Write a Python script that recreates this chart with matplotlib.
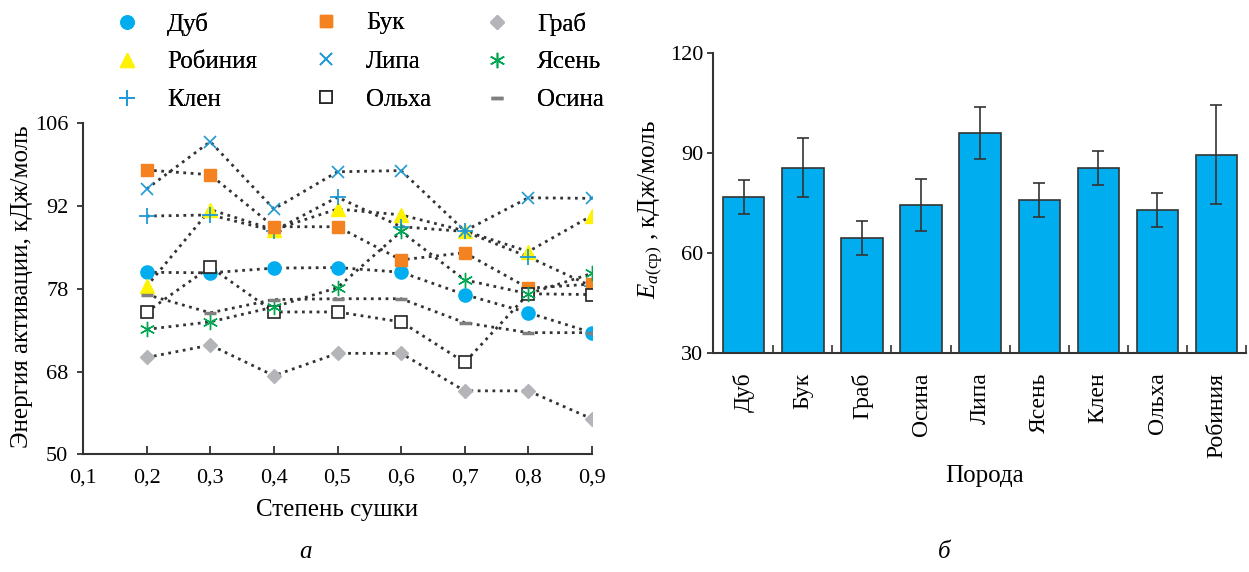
import numpy as np
import matplotlib.pyplot as plt
from matplotlib.lines import Line2D

plt.rcParams['font.family'] = ['Liberation Serif', 'DejaVu Serif']
plt.rcParams['mathtext.fontset'] = 'custom'
plt.rcParams['mathtext.rm'] = 'Liberation Serif'
plt.rcParams['mathtext.it'] = 'Liberation Serif:italic'

# --- data, panel a ---
dryness = [0.2, 0.3, 0.4, 0.5, 0.6, 0.7, 0.8, 0.9]
dub = [80.8, 80.7, 81.5, 81.6, 80.8, 77.3, 75.1, 72.7]
robinia = [78.4, 91.4, 88.0, 91.5, 90.5, 87.8, 84.3, 90.4]
klen = [90.3, 90.5, 87.8, 93.5, 88.5, 87.7, 83.4, 78.4]
buk = [98.1, 97.3, 88.5, 88.5, 82.9, 84.1, 78.1, 78.8]
lipa = [94.9, 102.9, 91.5, 97.8, 98.0, 87.8, 93.4, 93.3]
olkha = [75.2, 81.7, 75.2, 75.2, 74.0, 69.1, 77.4, 77.3]
grab = [69.7, 71.2, 67.1, 70.2, 70.2, 63.8, 63.8, 57.7]
yasen = [73.1, 74.0, 75.8, 78.2, 87.7, 79.5, 77.4, 80.6]
osina = [77.3, 75.1, 76.7, 76.8, 76.8, 73.9, 72.7, 72.7]
ytick_vals = [50, 68, 78, 92, 106]
xtick_vals = [0.1, 0.2, 0.3, 0.4, 0.5, 0.6, 0.7, 0.8, 0.9]

# --- data, panel b ---
bar_names = ['Дуб', 'Бук', 'Граб', 'Осина', 'Липа', 'Ясень', 'Клен', 'Ольха', 'Робиния']
bar_mean = [76.9, 85.6, 64.5, 74.5, 95.9, 76.0, 85.5, 72.9, 89.5]
bar_err = [5.1, 8.8, 5.2, 7.8, 7.7, 5.1, 5.2, 5.1, 14.7]

BLUE = '#00AEEF'
DARK = '#333333'
FS = 18      # labels, legend
TFS = 16     # numeric tick labels

# name, values, marker style
series = [
    ('Дуб', dub, dict(marker='o', ms=9.5, mfc=BLUE, mec=BLUE)),
    ('Робиния', robinia, dict(marker='^', ms=10, mfc='#FFF200', mec='#FFF200')),
    ('Клен', klen, dict(marker='+', ms=11, mec='#1E9AD6', mew=1.3)),
    ('Бук', buk, dict(marker='s', ms=9, mfc='#F58220', mec='#F58220')),
    ('Липа', lipa, dict(marker='x', ms=8, mec='#1E9AD6', mew=1.2)),
    ('Ольха', olkha, dict(marker='s', ms=9, mfc='white', mec='#222222', mew=1.2)),
    ('Граб', grab, dict(marker='D', ms=7, mfc='#B3B5B8', mec='#B3B5B8')),
    ('Ясень', yasen, dict(marker=(6, 2, 0), ms=11, mec='#00A651', mew=1.0)),
    ('Осина', osina, dict(marker='_', ms=9, mec='#808080', mew=2.5)),
]

fig = plt.figure(figsize=(12.49, 5.72), dpi=100)

# ---------- panel a ----------
ax = fig.add_axes([83 / 1249, 1 - 454.3 / 572, (592 - 83) / 1249, (454.3 - 123.3) / 572])


def fwd(y):
    return np.interp(y, ytick_vals, np.arange(len(ytick_vals)))


def inv(p):
    return np.interp(p, np.arange(len(ytick_vals)), ytick_vals)


ax.set_yscale('function', functions=(fwd, inv))
handles = []
for name, vals, style in series:
    ax.plot(dryness, vals, linestyle=':', color=DARK, lw=2, zorder=1)
    ax.plot(dryness, vals, linestyle='none', zorder=3, **style)
    handles.append(Line2D([], [], linestyle='none', label=name, **style))

ax.set_xlim(0.1, 0.9)
ax.set_ylim(50, 106)
ax.set_xticks(xtick_vals)
ax.set_xticklabels([f'{v:.1f}'.replace('.', ',') for v in xtick_vals])
ax.set_yticks(ytick_vals)
ax.set_yticklabels([str(v) for v in ytick_vals])
ax.tick_params(axis='x', direction='in', length=6, width=1.3, color=DARK,
               labelsize=TFS, pad=10.5)
ax.tick_params(axis='y', direction='out', length=4.5, width=1.3, color=DARK,
               labelsize=TFS, pad=6)
for s in ['top', 'right']:
    ax.spines[s].set_visible(False)
for s in ['left', 'bottom']:
    ax.spines[s].set_color(DARK)
    ax.spines[s].set_linewidth(1.5)

fig.text(22 / 1249, 1 - 287 / 572, 'Энергия активации, кДж/моль', rotation=90,
         ha='center', va='center', fontsize=FS)
fig.text(337 / 1249, 1 - 510 / 572, 'Степень сушки', ha='center', va='center', fontsize=FS)
fig.text(306 / 1249, 1 - 552 / 572, 'а', ha='center', va='center', fontsize=FS, style='italic')

# legend: three columns placed separately
col_x = [104.5 / 1249, 303.5 / 1249, 474.5 / 1249]
for i in range(3):
    leg = fig.legend(handles=handles[3 * i:3 * i + 3], loc='upper left',
                     bbox_to_anchor=(col_x[i], 1.0 - 2 / 572), frameon=False,
                     fontsize=FS, handlelength=1.0, handletextpad=1.1,
                     labelspacing=0.62, borderaxespad=0)
    fig.add_artist(leg)

# ---------- panel b ----------
bx = fig.add_axes([713 / 1249, 1 - 353.3 / 572, (1246 - 713) / 1249, (353.3 - 52.7) / 572])
xpos = np.arange(len(bar_names))
bx.bar(xpos, bar_mean, width=0.7, color=BLUE, edgecolor=DARK, linewidth=1.2, zorder=2)
bx.errorbar(xpos, bar_mean, yerr=bar_err, fmt='none', ecolor=DARK, elinewidth=1.2,
            capsize=4, capthick=1.2, zorder=3)
bx.set_ylim(30, 120)
bx.set_xlim(-0.52, 8.49)
bx.set_yticks([30, 60, 90, 120])
bx.set_xticks(xpos)
bx.set_xticklabels(bar_names, rotation=90)
bx.set_xticks(xpos + 0.5, minor=True)
bx.tick_params(axis='x', which='major', length=0, pad=14, labelsize=FS - 1)
bx.tick_params(axis='x', which='minor', direction='in', length=6, width=1.2, color=DARK)
bx.tick_params(axis='y', direction='out', length=4, width=1.3, color=DARK,
               labelsize=TFS, pad=3)
for s in ['top', 'right']:
    bx.spines[s].set_visible(False)
for s in ['left', 'bottom']:
    bx.spines[s].set_color(DARK)
    bx.spines[s].set_linewidth(1.5)

fig.text(651 / 1249, 1 - 210 / 572, r'$E_{a(\mathrm{ср})}$ , кДж/моль', rotation=90,
         ha='center', va='center', fontsize=FS)
fig.text(985 / 1249, 1 - 476 / 572, 'Порода', ha='center', va='center', fontsize=FS)
fig.text(944 / 1249, 1 - 552 / 572, 'б', ha='center', va='center', fontsize=FS, style='italic')

fig.savefig('out.png', dpi=100)
